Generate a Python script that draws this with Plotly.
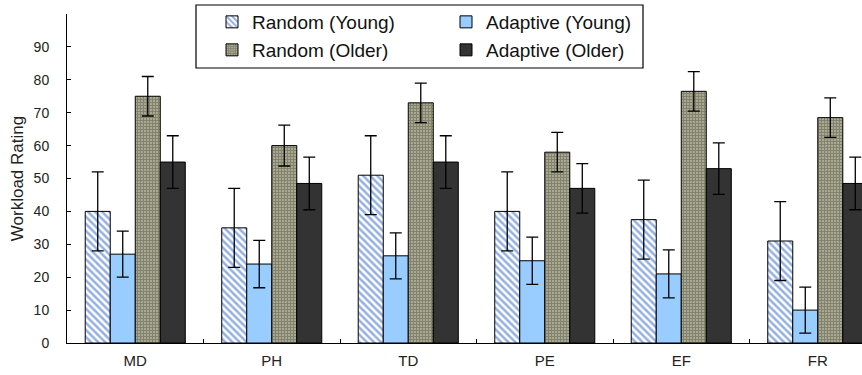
import plotly.graph_objects as go

categories = ["MD", "PH", "TD", "PE", "EF", "FR"]

random_young = [40, 35, 51, 40, 37.5, 31]
random_young_err = [12, 12, 12, 12, 12, 12]
adaptive_young = [27, 24, 26.5, 25, 21, 10]
adaptive_young_err = [7, 7.2, 7, 7.2, 7.3, 7]
random_older = [75, 60, 73, 58, 76.5, 68.5]
random_older_err = [6, 6.2, 6, 6, 6, 6]
adaptive_older = [55, 48.5, 55, 47, 53, 48.5]
adaptive_older_err = [8, 8, 8, 7.5, 7.8, 8]

y_ticks = [0, 10, 20, 30, 40, 50, 60, 70, 80, 90]

FONT = "Liberation Sans, Arial, sans-serif"
W, H = 862, 375
ML, MT, MB = 67, 14, 32
PW, PH_ = W - ML, H - MT - MB


def err(vals):
    return dict(type="data", array=vals, visible=True, color="black",
                thickness=1.3, width=6)


fig = go.Figure()
fig.add_bar(
    name="Random (Young)", x=categories, y=random_young,
    error_y=err(random_young_err), legend="legend",
    marker=dict(color="white", line=dict(color="black", width=1),
                pattern=dict(shape="\\", fgcolor="#2a62c4", bgcolor="white",
                             size=5, solidity=0.5)),
)
fig.add_bar(
    name="Adaptive (Young)", x=categories, y=adaptive_young,
    error_y=err(adaptive_young_err), legend="legend",
    marker=dict(color="#99ccff", line=dict(color="black", width=1)),
)
fig.add_bar(
    name="Random (Older)", x=categories, y=random_older,
    error_y=err(random_older_err), legend="legend2",
    marker=dict(color="#8a8a76", line=dict(color="black", width=1),
                pattern=dict(shape="+", fgcolor="#3e3e34", bgcolor="#c6c6aa",
                             size=3, solidity=0.75)),
)
fig.add_bar(
    name="Adaptive (Older)", x=categories, y=adaptive_older,
    error_y=err(adaptive_older_err), legend="legend2",
    marker=dict(color="#333333", line=dict(color="black", width=1)),
)


def px_x(p):
    return (p - ML) / PW


def px_y(p):
    return (H - MB - p) / PH_


legend_common = dict(
    orientation="h", xanchor="left", yanchor="middle",
    font=dict(family=FONT, size=19, color="#111"),
    bgcolor="rgba(0,0,0,0)", borderwidth=0,
    entrywidth=189, entrywidthmode="pixels", itemwidth=30,
    tracegroupgap=0,
)

fig.update_layout(
    width=W, height=H,
    margin=dict(l=ML, r=0, t=MT, b=MB, pad=0),
    paper_bgcolor="white", plot_bgcolor="white",
    barmode="group", bargap=0.267, bargroupgap=0,
    font=dict(family=FONT, color="#222"),
    legend=dict(x=px_x(212), y=px_y(22), **legend_common),
    legend2=dict(x=px_x(212), y=px_y(50), **legend_common),
    xaxis=dict(
        type="category", range=[-0.5, 5.324],
        showline=True, linecolor="black", linewidth=1,
        ticks="inside", ticklen=4, tickcolor="black", tickson="boundaries",
        tickfont=dict(family=FONT, size=15, color="#222"),
        ticklabelstandoff=4, showgrid=False, zeroline=False,
    ),
    yaxis=dict(
        range=[0, 100], tickvals=y_ticks,
        showline=True, linecolor="black", linewidth=1,
        ticks="inside", ticklen=4, tickcolor="black",
        tickfont=dict(family=FONT, size=14, color="#222"),
        ticklabelstandoff=14, showgrid=False, zeroline=False,
        title=dict(text="Workload Rating", standoff=5,
                   font=dict(family=FONT, size=17, color="#222")),
    ),
    shapes=[dict(type="rect", xref="paper", yref="paper",
                 x0=px_x(196), x1=px_x(643), y0=px_y(68), y1=px_y(5),
                 line=dict(color="black", width=1.2),
                 fillcolor="rgba(0,0,0,0)")],
)

fig.write_html("out.html")
